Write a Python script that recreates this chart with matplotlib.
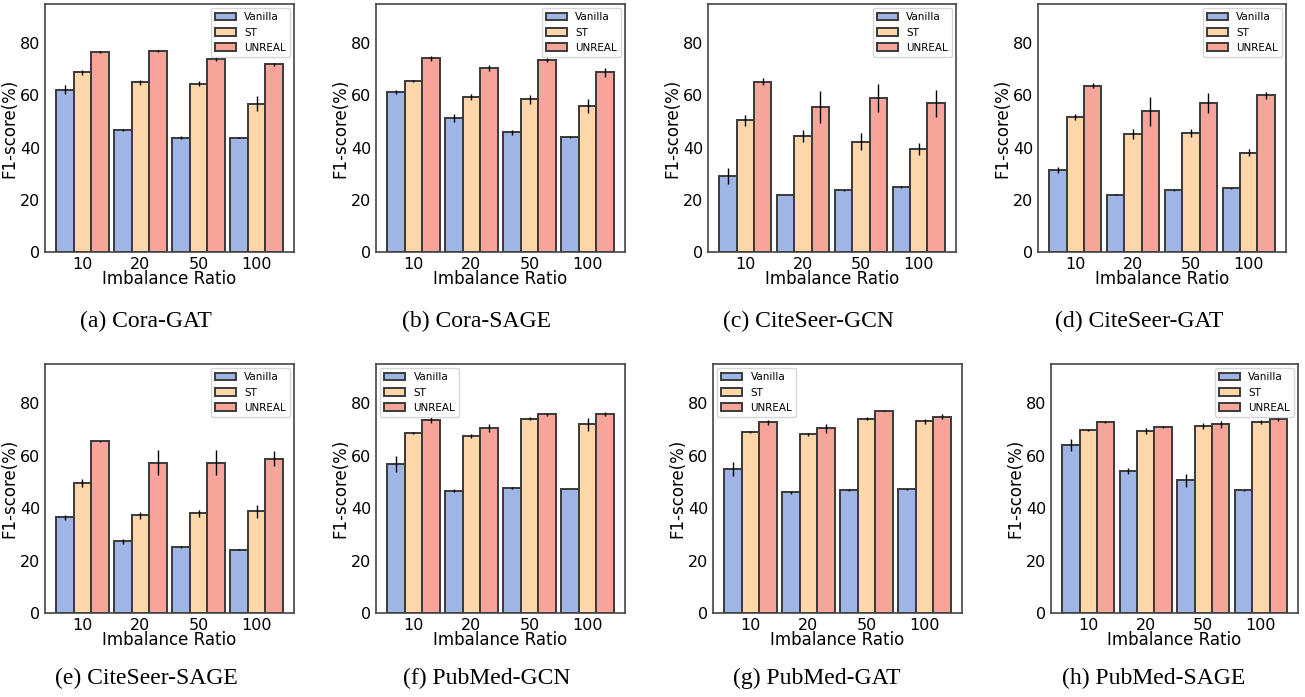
import numpy as np
import matplotlib
matplotlib.use("Agg")
import matplotlib.pyplot as plt

ratios = ["10", "20", "50", "100"]
methods = ["Vanilla", "ST", "UNREAL"]
colors = ["#9fb5e6", "#fdd6aa", "#f7a59a"]

captions = ["(a) Cora-GAT", "(b) Cora-SAGE", "(c) CiteSeer-GCN", "(d) CiteSeer-GAT",
            "(e) CiteSeer-SAGE", "(f) PubMed-GCN", "(g) PubMed-GAT", "(h) PubMed-SAGE"]

# mean F1 per panel: rows = Vanilla, ST, UNREAL
cora_gat = [[62.2, 46.8, 43.8, 43.7], [68.8, 65.0, 64.5, 56.8], [76.6, 76.9, 73.9, 71.9]]
cora_gat_err = [[1.6, 0.4, 0.6, 0.2], [1.0, 0.9, 0.9, 2.8], [0.4, 0.4, 0.8, 0.6]]
cora_sage = [[61.3, 51.2, 45.8, 44.0], [65.5, 59.5, 58.5, 55.8], [74.2, 70.4, 73.5, 68.8]]
cora_sage_err = [[0.8, 1.5, 0.9, 0.3], [0.5, 1.2, 1.8, 2.7], [0.9, 1.1, 0.9, 1.6]]
cs_gcn = [[29.0, 21.9, 23.6, 24.9], [50.4, 44.4, 42.2, 39.5], [65.3, 55.5, 59.0, 56.9]]
cs_gcn_err = [[3.1, 0.1, 0.1, 0.2], [2.1, 2.2, 3.2, 2.2], [1.3, 6.2, 5.3, 5.3]]
cs_gat = [[31.3, 22.0, 23.7, 24.4], [51.8, 45.3, 45.5, 38.1], [63.7, 53.9, 57.0, 60.0]]
cs_gat_err = [[1.1, 0.1, 0.2, 0.2], [1.1, 2.0, 1.5, 1.3], [1.0, 5.5, 3.9, 1.3]]
cs_sage = [[36.5, 27.4, 25.2, 24.1], [49.7, 37.2, 38.1, 38.8], [65.6, 57.4, 57.4, 58.9]]
cs_sage_err = [[0.9, 1.0, 0.4, 0.2], [1.5, 1.2, 1.3, 2.4], [0.2, 4.9, 4.6, 2.8]]
pm_gcn = [[56.9, 46.7, 47.8, 47.4], [68.7, 67.6, 74.2, 72.0], [73.5, 70.6, 75.8, 75.9]]
pm_gcn_err = [[3.1, 0.6, 0.4, 0.1], [0.5, 0.8, 0.5, 2.4], [1.1, 1.6, 0.6, 0.7]]
pm_gat = [[55.1, 46.0, 46.9, 47.3], [69.1, 68.2, 74.1, 73.1], [72.7, 70.4, 77.2, 74.9]]
pm_gat_err = [[2.7, 0.5, 0.4, 0.2], [0.5, 0.5, 0.5, 1.0], [0.8, 1.6, 0.2, 1.0]]
pm_sage = [[64.1, 54.1, 50.6, 46.9], [69.8, 69.4, 71.4, 72.9], [72.7, 71.0, 72.0, 73.9]]
pm_sage_err = [[2.4, 1.2, 2.4, 0.2], [0.4, 1.1, 1.2, 0.9], [0.4, 0.4, 1.3, 0.6]]

means = [cora_gat, cora_sage, cs_gcn, cs_gat, cs_sage, pm_gcn, pm_gat, pm_sage]
errs = [cora_gat_err, cora_sage_err, cs_gcn_err, cs_gat_err,
        cs_sage_err, pm_gcn_err, pm_gat_err, pm_sage_err]
legend_loc = ["upper right"] * 5 + ["upper left", "upper left", "upper right"]

W, H = 1305, 697
# axes boxes in pixels: left, top, right, bottom
boxes = [(45, 4, 294, 252), (376, 4, 625, 252), (708, 4, 956, 252), (1038, 4, 1286, 252),
         (45, 364, 294, 613), (376, 364, 625, 613), (713, 364, 962, 613), (1051, 364, 1298, 613)]
cap_x = [146, 477, 808, 1139, 146, 487, 817, 1154]
cap_y = [321, 321, 321, 321, 678, 678, 678, 678]

fig = plt.figure(figsize=(W / 100, H / 100), dpi=100)
x = np.arange(len(ratios))
w = 0.3

for i in range(8):
    l, t, r, b = boxes[i]
    ax = fig.add_axes([l / W, 1 - b / H, (r - l) / W, (b - t) / H])
    for k in range(3):
        ax.bar(x + (k - 1) * w, means[i][k], w, yerr=errs[i][k], color=colors[k],
               edgecolor="#3a3a3a", linewidth=1.4, label=methods[k],
               error_kw=dict(ecolor="black", elinewidth=1.0, capsize=0))
    ax.set_ylim(0, 95)
    ax.set_yticks([0, 20, 40, 60, 80])
    ax.set_xticks(x)
    ax.set_xticklabels(ratios)
    ax.tick_params(labelsize=11.5, length=0, pad=3.5)
    ax.set_xlabel("Imbalance Ratio", fontsize=12, labelpad=-1)
    ax.set_ylabel("F1-score(%)", fontsize=12, labelpad=1)
    for s in ax.spines.values():
        s.set_color("#444444")
        s.set_linewidth(1.2)
    ax.legend(loc=legend_loc[i], fontsize=7.5, framealpha=0.8, borderaxespad=0.4)
    fig.text(cap_x[i] / W, 1 - cap_y[i] / H, captions[i], ha="center", va="center",
             fontsize=17, family="Liberation Serif")

fig.savefig("out.png", dpi=100)
